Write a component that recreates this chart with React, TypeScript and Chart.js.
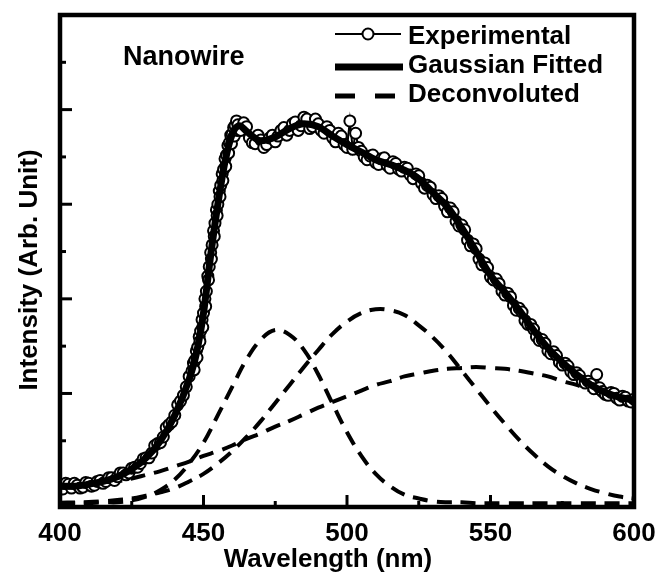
import React, { useEffect, useRef } from "react";
import { Chart, registerables } from "chart.js";

Chart.register(...registerables);

// ---------- data ----------
const EXP_WAVELENGTH = [
  400, 401, 402, 403, 404, 405, 406, 407, 408, 409,
  410, 411, 412, 413, 414, 415, 416, 417, 418, 419,
  420, 421, 422, 423, 424, 425, 426, 427, 428, 429,
  430, 431, 432, 433, 434, 435, 436, 437, 438, 439,
  440, 441, 442, 443, 444, 445,
  446, 446.5, 446.75, 447, 447.5, 447.75, 448, 448.5, 448.75,
  449, 449.5, 449.75, 450, 450.5, 450.75, 451, 451.5, 451.75,
  452, 452.5, 452.75, 453, 453.5, 453.75, 454, 454.5, 454.75,
  455, 455.5, 455.75, 456, 456.5, 456.75, 457, 457.5, 457.75,
  458, 458.5, 458.75, 459, 459.5, 459.75, 460, 460.5, 460.75,
  461, 461.5, 461.75, 462,
  463, 464, 465, 466, 467, 468, 469, 470, 471, 472,
  473, 474, 475, 476, 477, 478, 479, 480, 481, 482,
  483, 484, 485, 486, 487, 488, 489, 490, 491, 492,
  493, 494, 495, 496, 497, 498, 499, 500, 501, 502,
  503, 504, 505, 506, 507, 508, 509, 510, 511, 512,
  513, 514, 515, 516, 517, 518, 519, 520, 521, 522,
  523, 524, 525, 526, 527, 528, 529, 530, 531, 532,
  533, 534, 535, 536, 537, 538, 539, 540, 541, 542,
  543, 544, 545, 546, 547, 548, 549, 550, 551, 552,
  553, 554, 555, 556, 557, 558, 559, 560, 561, 562,
  563, 564, 565, 566, 567, 568, 569, 570, 571, 572,
  573, 574, 575, 576, 577, 578, 579, 580, 581, 582,
  583, 584, 585, 586, 587, 588, 589, 590, 591, 592,
  593, 594, 595, 596, 597, 598, 599, 600,
];
const EXP_INTENSITY = [
  0.22, 0.19, 0.25, 0.24, 0.2, 0.25, 0.23, 0.2, 0.21, 0.26,
  0.25, 0.22, 0.23, 0.27, 0.28, 0.25, 0.27, 0.31, 0.31, 0.28,
  0.32, 0.36, 0.36, 0.34, 0.36, 0.41, 0.42, 0.42, 0.46, 0.51,
  0.52, 0.52, 0.57, 0.65, 0.67, 0.68, 0.74, 0.84, 0.87, 0.9,
  0.97, 1.08, 1.12, 1.18, 1.27, 1.38,
  1.44, 1.52, 1.45, 1.55, 1.65, 1.58, 1.69, 1.8, 1.75,
  1.86, 1.98, 1.9, 2.05, 2.2, 2.12, 2.28, 2.44, 2.4,
  2.54, 2.69, 2.62, 2.77, 2.92, 2.86, 3.0, 3.14, 3.08,
  3.2, 3.34, 3.28, 3.4, 3.52, 3.45, 3.57, 3.68, 3.6,
  3.72, 3.82, 3.74, 3.85, 3.93, 3.84, 3.94, 4.01, 3.92,
  4.03, 4.08, 3.98, 4.04,
  3.98, 4.06, 4.02, 3.9, 3.85, 3.84, 3.93, 3.88, 3.8, 3.83,
  3.9, 3.93, 3.86, 3.92, 3.98, 4.01, 3.93, 3.98, 4.05, 4.07,
  3.98, 4.03, 4.12, 4.1, 4.0, 4.02, 4.1, 4.05, 3.98, 3.95,
  4.02, 3.98, 3.9, 3.86, 3.95, 3.92, 3.83, 3.8, 4.08, 3.78,
  3.95, 3.8, 3.76, 3.7, 3.67, 3.71, 3.72, 3.64, 3.62, 3.68,
  3.69, 3.61, 3.58, 3.65, 3.63, 3.57, 3.55, 3.59, 3.58, 3.51,
  3.47, 3.52, 3.5, 3.42, 3.37, 3.4, 3.38, 3.3, 3.26, 3.29,
  3.26, 3.18, 3.12, 3.16, 3.12, 3.02, 2.97, 2.98, 2.93, 2.82,
  2.76, 2.78, 2.73, 2.62, 2.56, 2.58, 2.53, 2.43, 2.4, 2.41,
  2.36, 2.28, 2.24, 2.26, 2.22, 2.13, 2.08, 2.1, 2.06, 1.97,
  1.93, 1.93, 1.88, 1.8, 1.76, 1.77, 1.73, 1.65, 1.62, 1.64,
  1.6, 1.53, 1.5, 1.52, 1.49, 1.43, 1.4, 1.42, 1.39, 1.33,
  1.31, 1.33, 1.3, 1.25, 1.4, 1.26, 1.22, 1.19, 1.18, 1.21,
  1.2, 1.15, 1.13, 1.17, 1.16, 1.12, 1.11, 1.14,
];

const FIT_WAVELENGTH = [
  400, 405, 410, 415, 420, 425, 430, 435, 440, 445, 447.5, 450, 452.5, 455, 457.5, 460, 462.5, 465, 470, 475, 480, 485,
  490, 495, 500, 505, 510, 515, 520, 525, 530, 535, 540, 545, 550, 555, 560, 565, 570, 575, 580, 585, 590, 595, 600,
];
const FIT_INTENSITY = [
  0.22, 0.22, 0.24, 0.27, 0.32, 0.4, 0.52, 0.7, 0.97, 1.35, 1.62, 2.05, 2.66, 3.2, 3.65, 3.94, 4.03, 3.97, 3.87, 3.91,
  4.0, 4.05, 4.02, 3.92, 3.83, 3.75, 3.67, 3.62, 3.56, 3.47, 3.32, 3.17, 2.95, 2.7, 2.45, 2.27, 2.08, 1.87, 1.68, 1.53,
  1.4, 1.29, 1.21, 1.16, 1.13,
];

const DECONV_WAVELENGTH = [
  400, 405, 410, 415, 420, 425, 430, 435, 440, 445, 450, 455, 460, 465, 470, 475, 480, 485, 490, 495, 500, 505, 510,
  515, 520, 525, 530, 535, 540, 545, 550, 555, 560, 565, 570, 575, 580, 585, 590, 595, 600,
];
const DECONV_PEAK_1 = [
  0.04, 0.04, 0.04, 0.05, 0.05, 0.07, 0.11, 0.18, 0.29, 0.46, 0.68, 0.97, 1.27, 1.56, 1.77, 1.87, 1.82, 1.66, 1.4, 1.09,
  0.79, 0.54, 0.35, 0.22, 0.13, 0.09, 0.06, 0.05, 0.05, 0.04, 0.04, 0.04, 0.04, 0.04, 0.04, 0.04, 0.04, 0.04, 0.04,
  0.04, 0.04,
];
const DECONV_PEAK_2 = [
  0.045, 0.048, 0.053, 0.06, 0.075, 0.09, 0.12, 0.155, 0.2, 0.27, 0.35, 0.46, 0.59, 0.74, 0.91, 1.1, 1.29, 1.48, 1.66,
  1.83, 1.96, 2.05, 2.09, 2.08, 2.03, 1.92, 1.79, 1.63, 1.44, 1.25, 1.06, 0.88, 0.71, 0.56, 0.43, 0.33, 0.25, 0.19,
  0.145, 0.11, 0.09,
];
const DECONV_PEAK_3 = [
  0.16, 0.18, 0.21, 0.23, 0.27, 0.3, 0.34, 0.38, 0.43, 0.48, 0.54, 0.59, 0.65, 0.72, 0.78, 0.85, 0.91, 0.98, 1.05,
  1.11, 1.17, 1.23, 1.29, 1.33, 1.38, 1.41, 1.44, 1.46, 1.47, 1.48, 1.47, 1.46, 1.44, 1.41, 1.38, 1.33, 1.29, 1.23,
  1.17, 1.11, 1.05,
];

const X_MIN = 400;
const X_MAX = 600;
const X_STEP = 50;
const Y_MIN = 0;
const Y_MAX = 5.2;
const X_MAJOR_TICKS = [400, 450, 500, 550, 600];
const X_MINOR_TICKS = [425, 475, 525, 575];
const Y_MAJOR_TICKS = [0.2, 1.2, 2.2, 3.2, 4.2];
const Y_MINOR_TICKS = [0.7, 1.7, 2.7, 3.7, 4.7];

const LEGEND_LABELS = ["Experimental", "Gaussian Fitted", "Deconvoluted"];
const X_TITLE = "Wavelength (nm)";
const Y_TITLE = "Intensity (Arb. Unit)";
const PANEL_LABEL = "Nanowire";

const FONT_FAMILY = '"Liberation Sans", Arial, Helvetica, sans-serif';

const pairs = (xs: number[], ys: number[]) => xs.map((x, i) => ({ x, y: ys[i] }));

const decorPlugin = {
  id: "decor",
  afterDraw(chart: any) {
    const { ctx, chartArea, scales } = chart;
    const { left, right, top, bottom } = chartArea;
    const xs = scales.x;
    const ys = scales.y;
    ctx.save();
    ctx.strokeStyle = "#000";
    ctx.fillStyle = "#000";
    ctx.lineCap = "butt";

    const seg = (x1: number, y1: number, x2: number, y2: number) => {
      ctx.beginPath();
      ctx.moveTo(x1, y1);
      ctx.lineTo(x2, y2);
      ctx.stroke();
    };

    // inward ticks
    ctx.lineWidth = 3;
    X_MAJOR_TICKS.forEach((v) => {
      const p = xs.getPixelForValue(v);
      seg(p, bottom, p, bottom - 12);
    });
    X_MINOR_TICKS.forEach((v) => {
      const p = xs.getPixelForValue(v);
      seg(p, bottom, p, bottom - 6);
    });
    Y_MAJOR_TICKS.forEach((v) => {
      const p = ys.getPixelForValue(v);
      seg(left, p, left + 12, p);
    });
    Y_MINOR_TICKS.forEach((v) => {
      const p = ys.getPixelForValue(v);
      seg(left, p, left + 6, p);
    });

    // frame
    ctx.lineWidth = 4.5;
    ctx.strokeRect(left, top, right - left, bottom - top);

    // panel label
    ctx.textAlign = "left";
    ctx.textBaseline = "alphabetic";
    ctx.font = `bold 27px ${FONT_FAMILY}`;
    ctx.fillText(PANEL_LABEL, 123, 65);

    // legend
    const sx1 = 335;
    const sx2 = 401;
    const tx = 408;
    ctx.font = `bold 26px ${FONT_FAMILY}`;
    ctx.lineWidth = 2;
    seg(sx1, 34, sx2, 34);
    ctx.beginPath();
    ctx.arc((sx1 + sx2) / 2, 34, 5.5, 0, Math.PI * 2);
    ctx.fillStyle = "#fff";
    ctx.fill();
    ctx.stroke();
    ctx.fillStyle = "#000";
    ctx.fillText(LEGEND_LABELS[0], tx, 44);

    ctx.lineWidth = 7;
    seg(sx1, 67, sx2 + 2, 67);
    ctx.fillText(LEGEND_LABELS[1], tx, 73);

    ctx.lineWidth = 5;
    ctx.setLineDash([20, 20]);
    seg(sx1, 96, sx2, 96);
    ctx.setLineDash([]);
    ctx.fillText(LEGEND_LABELS[2], tx, 102);

    // axis titles
    ctx.textAlign = "center";
    ctx.fillText(X_TITLE, 328, 567);
    ctx.translate(37, 270);
    ctx.rotate(-Math.PI / 2);
    ctx.fillText(Y_TITLE, 0, 0);

    ctx.restore();
  },
};

export default function App() {
  const canvasRef = useRef<HTMLCanvasElement | null>(null);

  useEffect(() => {
    document.body.style.margin = "0";
    const canvas = canvasRef.current;
    if (!canvas) return;
    const dashed = (label: string, ys: number[]) => ({
      label,
      data: pairs(DECONV_WAVELENGTH, ys),
      borderColor: "#000",
      borderWidth: 4,
      borderDash: [15, 9],
      pointRadius: 0,
      tension: 0.4,
      fill: false,
      clip: 0,
    });
    const chart = new Chart(canvas, {
      type: "line",
      data: {
        datasets: [
          {
            label: LEGEND_LABELS[1],
            data: pairs(FIT_WAVELENGTH, FIT_INTENSITY),
            borderColor: "#000",
            borderWidth: 7,
            pointRadius: 0,
            cubicInterpolationMode: "monotone",
            fill: false,
            clip: 0,
          },
          {
            label: LEGEND_LABELS[0],
            data: pairs(EXP_WAVELENGTH, EXP_INTENSITY),
            borderColor: "#000",
            borderWidth: 2,
            pointRadius: 5.5,
            pointBorderWidth: 2,
            pointBorderColor: "#000",
            pointBackgroundColor: "#fff",
            fill: false,
            clip: 0,
          },
          dashed(LEGEND_LABELS[2], DECONV_PEAK_1),
          dashed(LEGEND_LABELS[2], DECONV_PEAK_2),
          dashed(LEGEND_LABELS[2], DECONV_PEAK_3),
        ] as any,
      },
      options: {
        responsive: false,
        animation: false,
        events: [],
        layout: { padding: { top: 15, right: 23, left: 0, bottom: 0 } },
        plugins: { legend: { display: false }, tooltip: { enabled: false } },
        scales: {
          x: {
            type: "linear",
            min: X_MIN,
            max: X_MAX,
            grid: { display: false, drawTicks: false },
            border: { display: false },
            ticks: {
              stepSize: X_STEP,
              color: "#000",
              padding: 11,
              maxRotation: 0,
              autoSkip: false,
              font: { family: FONT_FAMILY, size: 26, weight: "bold" },
            },
            afterFit: (s: any) => {
              s.height = 66;
              s.paddingLeft = 0;
              s.paddingRight = 0;
            },
          },
          y: {
            type: "linear",
            min: Y_MIN,
            max: Y_MAX,
            grid: { display: false, drawTicks: false },
            border: { display: false },
            ticks: { display: false },
            afterFit: (s: any) => {
              s.width = 60;
              s.paddingTop = 0;
              s.paddingBottom = 0;
            },
          },
        },
      } as any,
      plugins: [decorPlugin],
    });
    return () => chart.destroy();
  }, []);

  return (
    <div style={{ position: "absolute", left: 0, top: 0, width: 657, height: 573, background: "#fff" }}>
      <canvas ref={canvasRef} width={657} height={573} />
    </div>
  );
}
